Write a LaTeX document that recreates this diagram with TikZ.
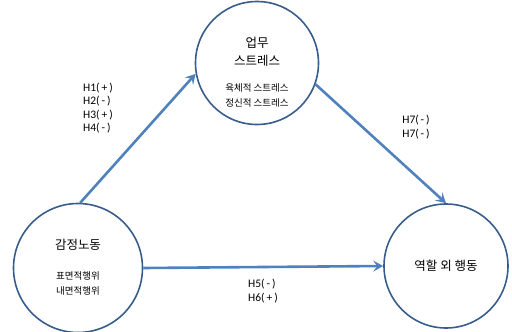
\documentclass[tikz,border=0pt]{standalone}
\usepackage{fontspec}
\setmainfont{Carlito}
\newfontfamily\kr{Noto Sans CJK KR}
\usetikzlibrary{arrows.meta}
\definecolor{arrowblue}{RGB}{79,129,189}
\definecolor{ringblue}{RGB}{56,93,138}
\begin{document}
\begin{tikzpicture}[x=1pt,y=-1pt,
  ring/.style={circle,draw=ringblue,line width=1.6pt,fill=white,inner sep=0pt,align=center},
  conn/.style={draw=arrowblue,line width=2.6pt,-{Stealth[length=10pt,width=11pt,inset=4pt]}},
  big/.style={font=\kr\fontsize{12.5}{14}\selectfont,inner sep=0pt},
  small/.style={font=\kr\fontsize{9.5}{15}\selectfont,align=center,inner sep=0pt},
  hyp/.style={font=\fontsize{11.5}{13.5}\selectfont,align=left,inner sep=0pt}]
\useasboundingbox (0,0) rectangle (512,332);
\node[ring,minimum size=123pt] (T) at (257,63) {};
\node[ring,minimum size=129pt] (L) at (78,268) {};
\node[ring,minimum size=124pt] (R) at (446,266) {};
\node[big] (t1) at (257,43) {업무};
\node[big] (t2) at (257,61) {스트레스};
\node[small] (t3) at (257,95) {육체적 스트레스\\정신적 스트레스};
\node[big] (l1) at (78,245) {감정노동};
\node[small] (l2) at (78,283) {표면적행위\\내면적행위};
\node[big] (r1) at (446,266) {역할 외 행동};
\draw[conn] (L.88) -- (T.190);
\draw[conn] (T.-20) -- (R.90);
\draw[conn] (L.east) -- (R.west);
\node[hyp] (h1) at (98,108) {H1(\,+\,)\\H2(\,-\,)\\H3(\,+\,)\\H4(\,-\,)};
\node[hyp] (h7) at (416,127) {H7(\,-\,)\\H7(\,-\,)};
\node[hyp] (h5) at (263,291) {H5(\,-\,)\\H6(\,+\,)};
\end{tikzpicture}
\end{document}
